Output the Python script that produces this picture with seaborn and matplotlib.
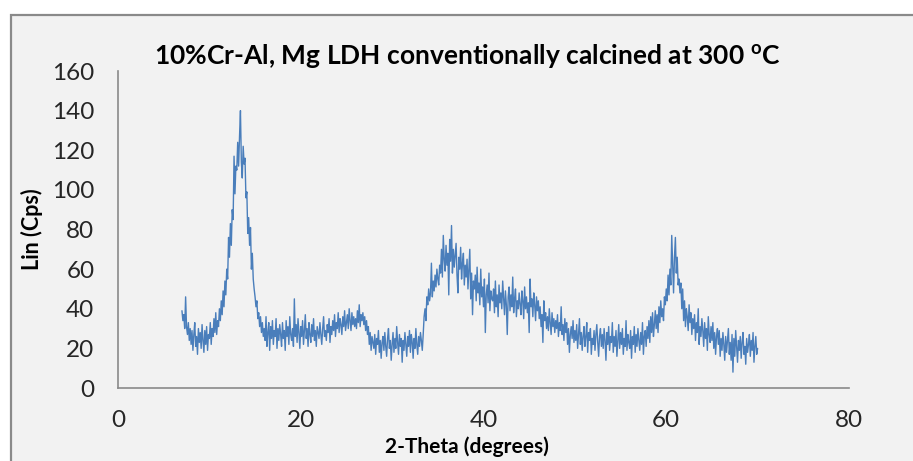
import numpy as np
import pandas as pd
import matplotlib
matplotlib.use("Agg")
import matplotlib.pyplot as plt
from matplotlib.patches import Rectangle
import seaborn as sns

# XRD scan: 2-theta from 7.0 to 70.0 degrees in 0.1 degree steps
scan_start = 7.0
scan_step = 0.1

counts_07_17 = [
    39, 34, 37, 30, 46, 31, 27, 33, 24, 30,
    22, 29, 19, 27, 33, 21, 26, 17, 30, 23,
    28, 20, 32, 24, 18, 29, 22, 31, 19, 27,
    25, 33, 22, 30, 26, 35, 28, 38, 27, 34,
    31, 40, 34, 44, 37, 49, 41, 54, 47, 60,
    55, 76, 66, 83, 72, 90, 85, 117, 98, 112,
    110, 124, 112, 127, 140, 114, 106, 122, 113, 116,
    96, 99, 78, 86, 72, 81, 60, 68, 55, 50,
    46, 41, 44, 35, 38, 31, 36, 28, 33, 26,
    30, 24, 36, 21, 28, 33, 19, 31, 25, 34,
]
counts_17_27 = [
    22, 29, 26, 35, 20, 30, 24, 32, 27, 21,
    33, 25, 29, 19, 34, 26, 31, 22, 36, 27,
    24, 30, 21, 45, 26, 32, 23, 35, 28, 20,
    31, 26, 34, 22, 29, 37, 25, 30, 21, 33,
    27, 23, 32, 26, 35, 24, 29, 21, 31, 28,
    25, 33, 27, 22, 30, 36, 26, 29, 24, 32,
    28, 35, 23, 31, 27, 34, 29, 37, 26, 33,
    30, 38, 28, 35, 32, 27, 36, 31, 39, 29,
    33, 37, 30, 40, 34, 29, 38, 32, 36, 31,
    35, 30, 39, 33, 42, 31, 37, 34, 38, 32,
]
counts_27_37 = [
    36, 29, 34, 27, 31, 22, 28, 19, 26, 23,
    20, 27, 17, 25, 22, 29, 18, 24, 15, 23,
    26, 19, 28, 21, 16, 25, 30, 20, 24, 14,
    22, 28, 18, 25, 20, 31, 23, 17, 27, 21,
    25, 13, 24, 19, 28, 22, 16, 26, 21, 29,
    18, 27, 23, 15, 25, 20, 30, 22, 17, 26,
    21, 28, 24, 19, 27, 36, 40, 34, 46, 42,
    50, 44, 48, 63, 46, 54, 49, 57, 51, 60,
    55, 52, 62, 58, 70, 56, 77, 65, 59, 72,
    62, 68, 47, 75, 64, 82, 58, 70, 61, 67,
]
counts_37_47 = [
    73, 57, 48, 66, 60, 71, 55, 63, 68, 52,
    62, 56, 65, 50, 60, 70, 45, 58, 37, 54,
    50, 57, 44, 61, 48, 53, 42, 60, 46, 51,
    41, 55, 28, 47, 52, 43, 58, 39, 49, 45,
    44, 50, 38, 54, 41, 47, 36, 52, 43, 48,
    40, 54, 45, 37, 49, 42, 27, 46, 51, 39,
    47, 41, 56, 38, 45, 50, 36, 44, 40, 48,
    42, 37, 49, 44, 35, 51, 40, 46, 38, 43,
    28, 55, 41, 45, 36, 48, 42, 34, 46, 39,
    44, 35, 41, 31, 37, 23, 44, 34, 38, 30,
]
counts_47_57 = [
    36, 29, 40, 33, 27, 38, 31, 35, 28, 34,
    30, 37, 26, 33, 29, 41, 27, 32, 24, 35,
    28, 33, 22, 30, 18, 27, 31, 25, 34, 23,
    29, 24, 32, 20, 27, 35, 22, 28, 19, 26,
    31, 21, 26, 33, 18, 28, 24, 30, 17, 25,
    22, 29, 19, 27, 32, 23, 16, 26, 30, 21,
    27, 20, 30, 24, 14, 28, 22, 31, 19, 26,
    23, 33, 18, 26, 21, 29, 16, 24, 32, 20,
    28, 22, 30, 17, 25, 21, 34, 19, 27, 23,
    20, 29, 15, 26, 22, 31, 18, 27, 21, 30,
]
counts_57_70 = [
    24, 19, 28, 22, 33, 17, 26, 29, 21, 31,
    25, 34, 23, 36, 28, 38, 26, 32, 39, 30,
    37, 28, 41, 33, 44, 36, 40, 34, 46, 42,
    50, 44, 57, 47, 60, 52, 77, 63, 48, 66,
    76, 58, 66, 52, 55, 48, 53, 40, 50, 34,
    44, 31, 40, 36, 29, 42, 33, 38, 27, 35,
    30, 37, 24, 33, 28, 40, 22, 31, 26, 35,
    29, 21, 33, 25, 30, 19, 36, 27, 23, 31,
    24, 33, 20, 28, 17, 26, 30, 22, 29, 16,
    25, 19, 28, 22, 14, 26, 18, 24, 30, 17,
    23, 14, 27, 8, 25, 16, 29, 21, 13, 24,
    19, 26, 15, 23, 28, 17, 21, 12, 25, 18,
    22, 27, 16, 24, 19, 28, 13, 21, 26, 17,
    20,
]

x_ticks = [0, 20, 40, 60, 80]
y_ticks = [0, 20, 40, 60, 80, 100, 120, 140, 160]

title_text = "10%Cr-Al, Mg LDH conventionally calcined at 300 $^{\\mathbf{o}}$C"
x_label = "2-Theta (degrees)"
y_label = "Lin (Cps)"

counts = counts_07_17 + counts_17_27 + counts_27_37 + counts_37_47 + counts_47_57 + counts_57_70
two_theta = np.round(scan_start + scan_step * np.arange(len(counts)), 1)
df = pd.DataFrame({"two_theta": two_theta, "lin": counts})

sns.set_theme(style="white")
plt.rcParams["font.family"] = ["Lato", "DejaVu Sans"]
plt.rcParams["mathtext.fontset"] = "custom"
plt.rcParams["mathtext.rm"] = "Lato"
plt.rcParams["mathtext.bf"] = "Lato:bold"

W, H = 913, 461
fig = plt.figure(figsize=(W / 100, H / 100), dpi=100)
fig.patch.set_facecolor("white")

# chart area panel with grey frame, kept behind the axes
panel = Rectangle((10.5 / W, -0.2), 1.2, 0.2 + (H - 15.5) / H,
                  transform=fig.transFigure, facecolor="#f2f2f2",
                  edgecolor="#8a8a8a", linewidth=1.6, zorder=-10)
fig.patches.append(panel)

ax = fig.add_axes([118 / W, (H - 388) / H, (849 - 118) / W, (388 - 71) / H])
ax.set_facecolor("none")
ax.set_zorder(1)

sns.lineplot(data=df, x="two_theta", y="lin", ax=ax, color="#4a7ebb",
             linewidth=1.0, sort=False, estimator=None)

ax.set_xlim(0, 80)
ax.set_ylim(0, 160)
ax.set_xticks(x_ticks)
ax.set_yticks(y_ticks)
ax.set_xticklabels([str(v) for v in x_ticks])
ax.set_yticklabels([str(v) for v in y_ticks])

for side in ("top", "right"):
    ax.spines[side].set_visible(False)
for side in ("left", "bottom"):
    ax.spines[side].set_color("#8a8a8a")
    ax.spines[side].set_linewidth(1.2)

ax.tick_params(axis="both", which="major", direction="out", length=6,
               width=1.1, color="#8a8a8a", labelsize=17.5, labelcolor="#262626")
ax.tick_params(axis="y", pad=11)
ax.tick_params(axis="x", pad=10)

ax.set_xlabel(x_label, fontsize=15, fontweight="bold", color="black")
ax.set_ylabel(y_label, fontsize=15.5, fontweight="bold", color="black")
ax.xaxis.set_label_coords((467 - 118) / (849 - 118), -(447 - 388) / (388 - 71))
ax.yaxis.set_label_coords(-(118 - 32) / (849 - 118), 0.5)
ax.xaxis.label.set_va("center")
ax.yaxis.label.set_va("center")

fig.text(467 / W, 1 - 57 / H, title_text, ha="center", va="center",
         fontsize=19, fontweight="bold", color="black")

fig.savefig("out.png", dpi=100)
